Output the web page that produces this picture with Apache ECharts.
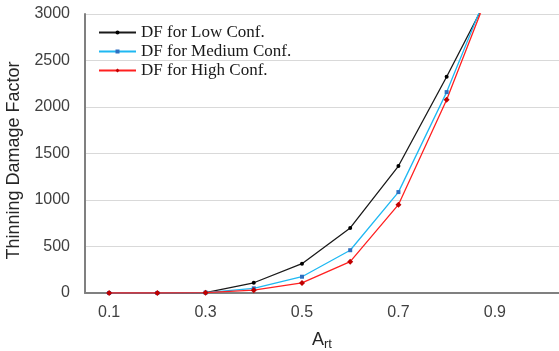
<!DOCTYPE html>
<html>
<head>
<meta charset="utf-8">
<script src="https://cdn.jsdelivr.net/npm/echarts@6/dist/echarts.min.js"></script>
<style>
  html, body { margin: 0; padding: 0; background: #fff; }
  #chart { width: 559px; height: 351px; }
</style>
</head>
<body>
<div id="chart"></div>
<script>
// A_rt values and thinning damage factors
const artValues = [0.1, 0.2, 0.3, 0.4, 0.5, 0.6, 0.7, 0.8, 0.9];
const dfLow = [0, 0, 5, 110, 315, 700, 1365, 2325, 3330];
const dfMedium = [0, 0, 4, 50, 175, 460, 1085, 2160, 3430];
const dfHigh = [0, 0, 3, 30, 108, 337, 950, 2078, 3405];
const xTickLabels = [0.1, 0.3, 0.5, 0.7, 0.9];
const seriesNames = ['DF for Low Conf.', 'DF for Medium Conf.', 'DF for High Conf.'];

const toPairs = (ys) => artValues.map((x, i) => [x, ys[i]]);

const chart = echarts.init(document.getElementById('chart'));

const makeSeries = (name, data, lineColor, markColor, symbol, size) => ({
  name,
  type: 'line',
  data: toPairs(data),
  symbol,
  symbolSize: size,
  showSymbol: true,
  clip: true,
  lineStyle: { color: lineColor, width: 1.3 },
  itemStyle: { color: markColor },
  emphasis: { disabled: true },
});

chart.setOption({
  animation: false,
  grid: { left: 85, right: 0, top: 14, bottom: 58, outerBoundsMode: 'none', containLabel: false },
  legend: {
    left: 98,
    top: 24,
    padding: 0,
    orient: 'vertical',
    itemWidth: 37,
    itemHeight: 5,
    itemGap: 2,
    textStyle: { fontFamily: 'Liberation Serif', fontSize: 17, color: '#1a1a1a' },
    data: seriesNames,
  },
  xAxis: {
    type: 'value',
    min: 0.05,
    max: 1.033,
    axisLine: { lineStyle: { color: '#808080', width: 2 } },
    axisTick: { show: false },
    splitLine: { show: false },
    axisLabel: {
      customValues: xTickLabels,
      margin: 12,
      fontFamily: 'Liberation Sans',
      fontSize: 16,
      color: '#404040',
      formatter: (v) => v.toFixed(1),
    },
    name: '{a|A}{s|rt}',
    nameLocation: 'middle',
    nameGap: 36,
    nameTextStyle: {
      rich: {
        a: { fontFamily: 'Liberation Sans', fontSize: 18, color: '#262626' },
        s: { fontFamily: 'Liberation Sans', fontSize: 13, color: '#262626', padding: [9, 0, 0, 0] },
      },
    },
  },
  yAxis: {
    type: 'value',
    min: 0,
    max: 3000,
    interval: 500,
    axisLine: { show: true, lineStyle: { color: '#808080', width: 2 } },
    axisTick: { show: false },
    splitLine: { lineStyle: { color: '#d9d9d9', width: 1 } },
    axisLabel: {
      margin: 15,
      fontFamily: 'Liberation Sans',
      fontSize: 16,
      color: '#404040',
      formatter: (v) => String(v),
    },
    name: 'Thinning Damage Factor',
    nameLocation: 'middle',
    nameGap: 57,
    nameTextStyle: {
      fontFamily: 'Liberation Sans',
      fontSize: 18,
      color: '#262626',
      padding: [0, 14, 0, 0],
    },
  },
  series: [
    makeSeries(seriesNames[0], dfLow, '#1a1a1a', '#000000', 'circle', 4),
    makeSeries(seriesNames[1], dfMedium, '#1fb8f2', '#2f6fc0', 'rect', 4),
    makeSeries(seriesNames[2], dfHigh, '#ff2020', '#c00000', 'diamond', 6),
  ],
});
</script>
</body>
</html>
